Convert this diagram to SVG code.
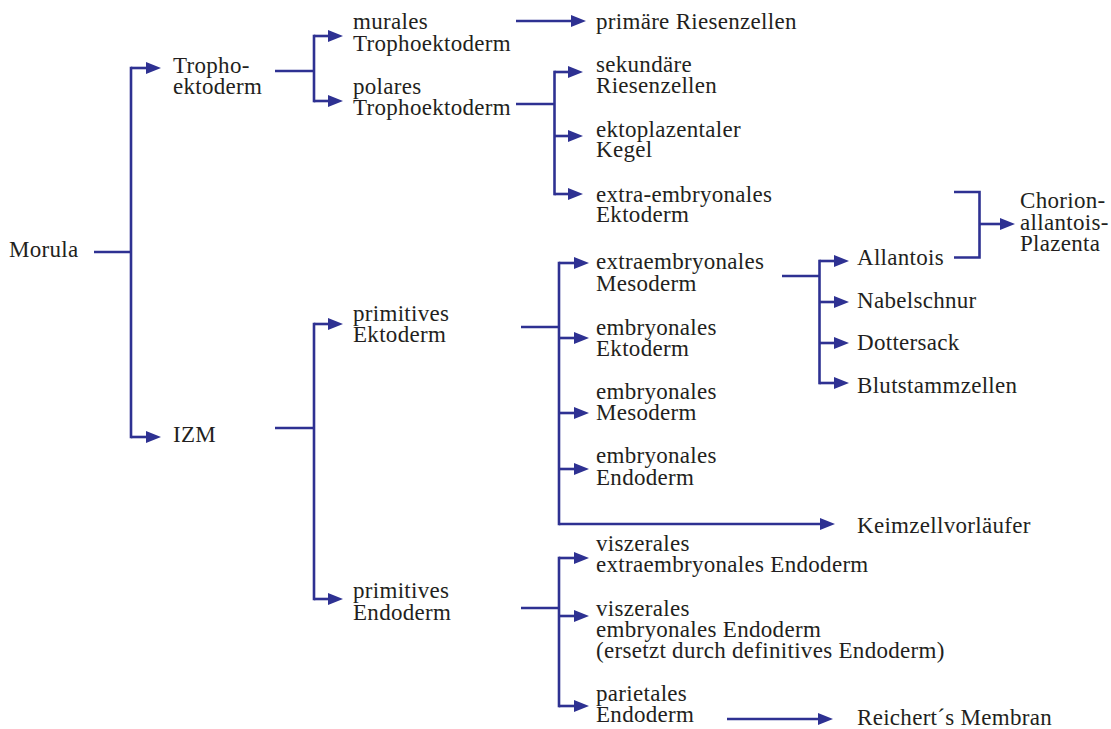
<svg xmlns="http://www.w3.org/2000/svg" width="1111" height="729" viewBox="0 0 1111 729">
<style>
text{font-family:'Liberation Serif','DejaVu Serif',serif;font-size:23px;letter-spacing:0.3px;fill:#231f20}
.c{fill:none;stroke:#2e3192;stroke-width:2.6;stroke-linecap:butt}
.b{stroke-linecap:square}
.a{marker-end:url(#ah)}
</style>
<defs>
<marker id="ah" markerWidth="15" markerHeight="12" refX="0" refY="6" orient="auto" markerUnits="userSpaceOnUse">
<path d="M0,0 L15,6 L0,12 z" fill="#2e3192"/>
</marker>
</defs>
<rect width="1111" height="729" fill="#fff"/>
<g id="connectors">
<path class="c" d="M94,252 H131"/>
<path class="c b" d="M131,68 V437"/>
<path class="c a" d="M131,68 H146"/>
<path class="c a" d="M131,437 H146"/>
<path class="c" d="M275,71 H314"/>
<path class="c b" d="M314,36 V101"/>
<path class="c a" d="M314,36 H328"/>
<path class="c a" d="M314,101 H328"/>
<path class="c a" d="M516,21 H571"/>
<path class="c" d="M516,104 H554.5"/>
<path class="c b" d="M554.5,72 V194"/>
<path class="c a" d="M554.5,72 H568"/>
<path class="c a" d="M554.5,136 H568"/>
<path class="c a" d="M554.5,194 H568"/>
<path class="c" d="M275,428 H314"/>
<path class="c b" d="M314,324 V599"/>
<path class="c a" d="M314,324 H328"/>
<path class="c a" d="M314,599 H328"/>
<path class="c" d="M521,327 H559"/>
<path class="c b" d="M559,263 V524"/>
<path class="c a" d="M559,263 H574"/>
<path class="c a" d="M559,338 H574"/>
<path class="c a" d="M559,413 H574"/>
<path class="c a" d="M559,469 H574"/>
<path class="c a" d="M559,524 H820"/>
<path class="c" d="M521,608 H559"/>
<path class="c b" d="M559,558 V706"/>
<path class="c a" d="M559,558 H574"/>
<path class="c a" d="M559,616 H574"/>
<path class="c a" d="M559,706 H574"/>
<path class="c a" d="M727,719 H818"/>
<path class="c" d="M782,276 H819.5"/>
<path class="c b" d="M819.5,261 V383"/>
<path class="c a" d="M819.5,261 H834"/>
<path class="c a" d="M819.5,302 H834"/>
<path class="c a" d="M819.5,343 H834"/>
<path class="c a" d="M819.5,383 H834"/>
<path class="c" d="M954,192 H979.5 V257.5 H954"/>
<path class="c a" d="M979.5,224 H1000"/>
</g>
<g font-family="Liberation Serif, DejaVu Serif, serif">
<g id="morula"><text x="9" y="257">Morula</text></g>
<g id="trophoektoderm"><text x="173" y="73">Tropho-<tspan x="173" y="94">ektoderm</tspan></text></g>
<g id="izm"><text x="173" y="442">IZM</text></g>
<g id="murales"><text x="353" y="29">murales<tspan x="353" y="51">Trophoektoderm</tspan></text></g>
<g id="polares"><text x="353" y="94">polares<tspan x="353" y="115">Trophoektoderm</tspan></text></g>
<g id="prim-ektoderm"><text x="353" y="321">primitives<tspan x="353" y="342">Ektoderm</tspan></text></g>
<g id="prim-endoderm"><text x="353" y="598">primitives<tspan x="353" y="620">Endoderm</tspan></text></g>
<g id="primaere-riesenzellen"><text x="596" y="29">primäre Riesenzellen</text></g>
<g id="sekundaere-riesenzellen"><text x="596" y="72">sekundäre<tspan x="596" y="93">Riesenzellen</tspan></text></g>
<g id="ektoplazentaler-kegel"><text x="596" y="137">ektoplazentaler<tspan x="596" y="157">Kegel</tspan></text></g>
<g id="extraemb-ektoderm"><text x="596" y="202">extra-embryonales<tspan x="596" y="222">Ektoderm</tspan></text></g>
<g id="extraemb-mesoderm"><text x="596" y="269">extraembryonales<tspan x="596" y="291">Mesoderm</tspan></text></g>
<g id="emb-ektoderm"><text x="596" y="335">embryonales<tspan x="596" y="356">Ektoderm</tspan></text></g>
<g id="emb-mesoderm"><text x="596" y="399">embryonales<tspan x="596" y="420">Mesoderm</tspan></text></g>
<g id="emb-endoderm"><text x="596" y="463">embryonales<tspan x="596" y="485">Endoderm</tspan></text></g>
<g id="keimzellvorlaeufer"><text x="857" y="533">Keimzellvorläufer</text></g>
<g id="visz-extraemb-endoderm"><text x="596" y="551">viszerales<tspan x="596" y="572">extraembryonales Endoderm</tspan></text></g>
<g id="visz-emb-endoderm"><text x="596" y="616">viszerales<tspan x="596" y="637">embryonales Endoderm</tspan><tspan x="596" y="658">(ersetzt durch definitives Endoderm)</tspan></text></g>
<g id="parietales-endoderm"><text x="596" y="701">parietales<tspan x="596" y="722">Endoderm</tspan></text></g>
<g id="reicherts-membran"><text x="857" y="725">Reichert´s Membran</text></g>
<g id="allantois"><text x="857" y="265">Allantois</text></g>
<g id="nabelschnur"><text x="857" y="308">Nabelschnur</text></g>
<g id="dottersack"><text x="857" y="350">Dottersack</text></g>
<g id="blutstammzellen"><text x="857" y="393">Blutstammzellen</text></g>
<g id="chorionallantoisplazenta"><text x="1020" y="208">Chorion-<tspan x="1020" y="230">allantois-</tspan><tspan x="1020" y="251">Plazenta</tspan></text></g>
</g>
</svg>
